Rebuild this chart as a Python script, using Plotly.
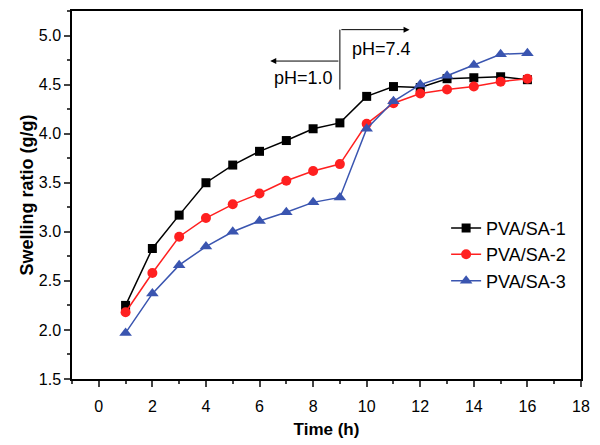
import plotly.graph_objects as go

# swelling ratio vs time, three PVA/SA formulations
time_h = [1, 2, 3, 4, 5, 6, 7, 8, 9, 10, 11, 12, 13, 14, 15, 16]
sa1 = [2.25, 2.83, 3.17, 3.50, 3.68, 3.82, 3.93, 4.05, 4.11, 4.38, 4.48, 4.47, 4.56, 4.57, 4.58, 4.55]
sa2 = [2.18, 2.58, 2.95, 3.14, 3.28, 3.39, 3.52, 3.62, 3.69, 4.10, 4.31, 4.41, 4.45, 4.48, 4.53, 4.56]
sa3 = [1.97, 2.37, 2.66, 2.85, 3.00, 3.11, 3.20, 3.30, 3.35, 4.05, 4.33, 4.50, 4.59, 4.70, 4.81, 4.82]

series_names = ["PVA/SA-1", "PVA/SA-2", "PVA/SA-3"]
x_ticks = [0, 2, 4, 6, 8, 10, 12, 14, 16, 18]
y_ticks = [1.5, 2.0, 2.5, 3.0, 3.5, 4.0, 4.5, 5.0]

FONT = "Liberation Sans, Arial, sans-serif"

fig = go.Figure()
fig.add_trace(go.Scatter(
    x=time_h, y=sa1, name=series_names[0], mode="lines+markers",
    line=dict(color="#000000", width=1.5),
    marker=dict(symbol="square", size=9, color="#000000"),
))
fig.add_trace(go.Scatter(
    x=time_h, y=sa2, name=series_names[1], mode="lines+markers",
    line=dict(color="#ff2020", width=1.5),
    marker=dict(symbol="circle", size=10, color="#ff2020"),
))
fig.add_trace(go.Scatter(
    x=time_h, y=sa3, name=series_names[2], mode="lines+markers",
    line=dict(color="#3a55b0", width=1.5),
    marker=dict(symbol="triangle-up", size=11, color="#3a55b0"),
))

# pH switch marker: vertical line with arrows either side
fig.add_shape(type="line", x0=9, x1=9, y0=4.45, y1=5.06,
              line=dict(color="#000000", width=1))
fig.add_annotation(x=11.6, y=5.06, ax=9, ay=5.06, xref="x", yref="y",
                   axref="x", ayref="y", showarrow=True, arrowhead=2,
                   arrowsize=1.2, arrowwidth=1, arrowcolor="#000000", text="")
fig.add_annotation(x=6.4, y=4.74, ax=9, ay=4.74, xref="x", yref="y",
                   axref="x", ayref="y", showarrow=True, arrowhead=2,
                   arrowsize=1.2, arrowwidth=1, arrowcolor="#000000", text="")
fig.add_annotation(x=10.55, y=4.86, text="pH=7.4", showarrow=False,
                   font=dict(family=FONT, size=18, color="#000000"))
fig.add_annotation(x=7.65, y=4.57, text="pH=1.0", showarrow=False,
                   font=dict(family=FONT, size=18, color="#000000"))

# page body adds an 8px margin, so the figure is 8px smaller than the window
fig.update_layout(
    width=592,
    height=437,
    plot_bgcolor="white",
    paper_bgcolor="white",
    margin=dict(l=64, r=19, t=1, b=66),
    font=dict(family=FONT, size=16, color="#000000"),
    legend=dict(x=0.735, y=0.46, xanchor="left", yanchor="top",
                bgcolor="rgba(0,0,0,0)", font=dict(size=18),
                tracegroupgap=0),
)

fig.update_xaxes(
    title=dict(text="<b>Time (h)</b>", font=dict(size=17), standoff=9),
    range=[-1, 18],
    tickvals=x_ticks,
    ticks="outside", ticklen=6, tickwidth=1.5, ticklabelstandoff=6,
    minor=dict(dtick=1, ticks="outside", ticklen=3, tickwidth=1.5),
    showline=True, linecolor="#000000", linewidth=1.5, mirror=True,
    showgrid=False, zeroline=False,
)
fig.update_yaxes(
    title=dict(text="<b>Swelling ratio (g/g)</b>", font=dict(size=18), standoff=0),
    range=[1.5, 5.25],
    tickvals=y_ticks,
    tickformat=".1f",
    ticks="outside", ticklen=6, tickwidth=1.5,
    minor=dict(dtick=0.25, ticks="outside", ticklen=3, tickwidth=1.5),
    showline=True, linecolor="#000000", linewidth=1.5, mirror=True,
    showgrid=False, zeroline=False,
)

fig.write_html("out.html")
